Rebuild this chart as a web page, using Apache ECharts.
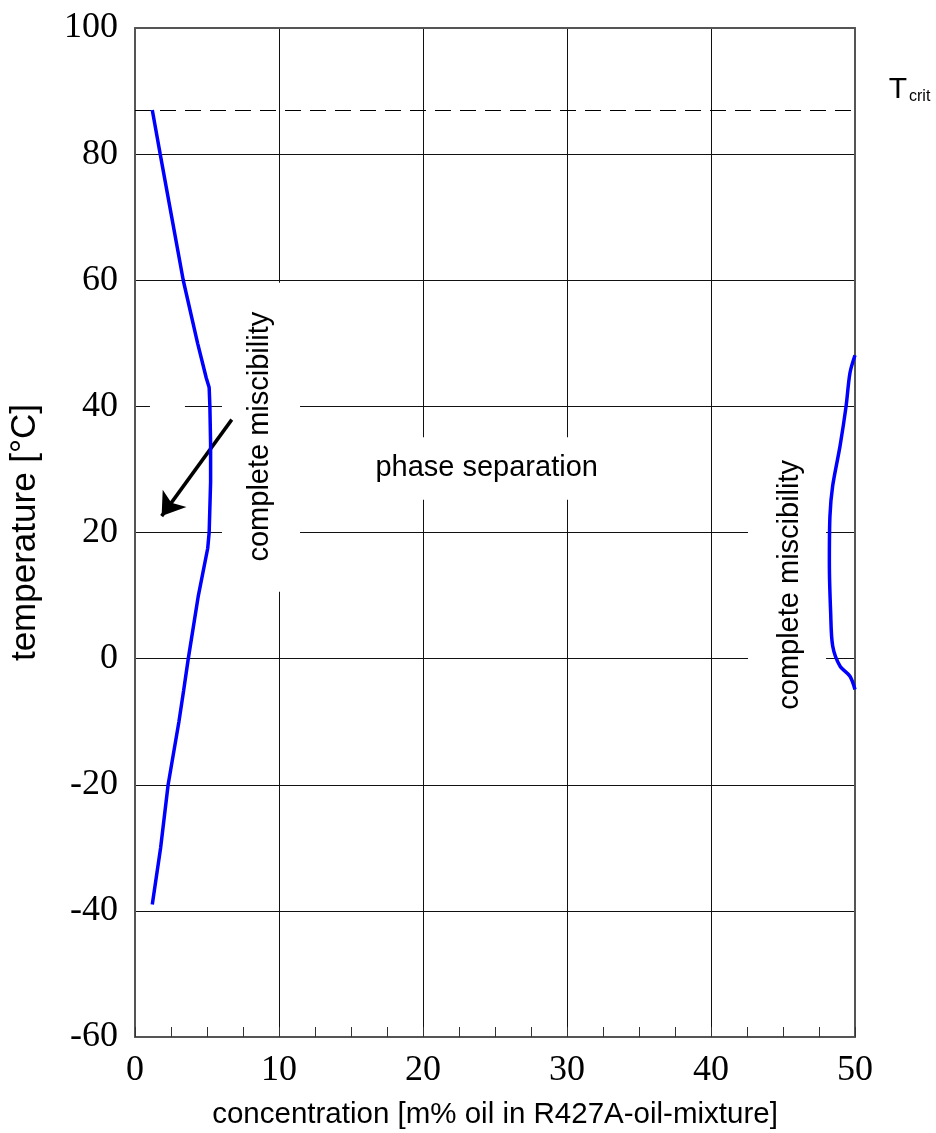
<!DOCTYPE html>
<html><head><meta charset="utf-8">
<script src="https://cdn.jsdelivr.net/npm/echarts@6/dist/echarts.min.js"></script>
<style>html,body{margin:0;padding:0;background:#fff}#c{width:936px;height:1133px}</style>
</head><body><div id="c"></div>
<script>
// ---- data ----
const leftX  = [1.2, 1.75, 2.55, 3.35, 4.35, 4.95, 5.15, 5.2, 5.25, 5.25, 5.2, 5.15, 5.05, 4.4, 3.7, 3.38, 3.05, 2.3, 1.78, 1.2];
const leftY  = [87, 80, 70, 60, 50, 44.5, 43, 40, 34, 28, 24, 20, 17.5, 10, 0, -5, -10, -20, -30, -39];
const rightX = [50.0, 49.65, 49.38, 48.96, 48.45, 48.26, 48.22, 48.31, 48.45, 48.96, 49.65, 50.0];
const rightY = [48.1, 45.3, 40.0, 33.7, 27.4, 22.6, 15.2, 7.3, 2.0, -1.2, -2.8, -4.9];
const xRange = [0, 50, 10];
const yRange = [-60, 100, 20];
const tCrit = 87;
const xTitle = 'concentration [m% oil in R427A-oil-mixture]';
const yTitle = 'temperature [°C]';
const labelTexts = ['complete miscibility', 'phase separation', 'complete miscibility'];
const labelAt = [[8.68, 35.2], [24.42, 30.3], [45.49, 11.7]];
const labelRot = [90, 0, 90];
const arrowFrom = [6.72, 37.9];
const arrowTo = [1.85, 22.6];
// white boxes behind labels (data coords: x1,y1,x2,y2)
const boxes = [[6.04, 59.6, 11.46, 10.6], [16.0, 35.1, 33.0, 25.2], [42.57, 33.2, 47.99, -9.7], [1.04, 40.8, 3.47, 39.2]];

const SANS = '"Liberation Sans", Arial, sans-serif';
const SERIF = '"Liberation Serif", "Times New Roman", serif';
const zip = (a, b) => a.map((v, i) => [v, b[i]]);

const chart = echarts.init(document.getElementById('c'));
const gridLine = {show: true, lineStyle: {color: '#111', width: 1}};
const axLine = {show: true, onZero: false, lineStyle: {color: '#555', width: 2}};
chart.setOption({
  animation: false,
  backgroundColor: '#fff',
  grid: {left: 135, right: 81, top: 28, bottom: 96, outerBoundsMode: 'none'},
  xAxis: [{
    type: 'value', min: xRange[0], max: xRange[1], interval: xRange[2],
    axisLine: axLine,
    axisTick: {show: true, inside: true, length: 10, lineStyle: {color: '#333', width: 1}},
    minorTick: {show: true, splitNumber: 4, length: 10, lineStyle: {color: '#333', width: 1}},
    axisLabel: {color: '#000', fontFamily: SERIF, fontSize: 36, margin: 16},
    splitLine: gridLine,
    name: xTitle, nameLocation: 'middle', nameGap: 63,
    nameTextStyle: {color: '#000', fontFamily: SANS, fontSize: 29.5}
  }, {
    type: 'value', position: 'top', min: xRange[0], max: xRange[1],
    axisLine: axLine, axisTick: {show: false}, axisLabel: {show: false}, splitLine: {show: false}
  }],
  yAxis: [{
    type: 'value', min: yRange[0], max: yRange[1], interval: yRange[2],
    axisLine: axLine, axisTick: {show: false},
    axisLabel: {color: '#000', fontFamily: SERIF, fontSize: 36, margin: 17},
    splitLine: gridLine,
    name: yTitle, nameLocation: 'middle', nameGap: 92,
    nameTextStyle: {color: '#000', fontFamily: SANS, fontSize: 35}
  }, {
    type: 'value', position: 'right', min: yRange[0], max: yRange[1],
    axisLine: axLine, axisTick: {show: false}, axisLabel: {show: false}, splitLine: {show: false}
  }],
  series: [
    {type: 'line', data: zip(leftX, leftY), symbol: 'none', z: 5,
     lineStyle: {color: '#0000ff', width: 3.5}},
    {type: 'line', data: zip(rightX, rightY), symbol: 'none', z: 5, smooth: 0.3,
     lineStyle: {color: '#0000ff', width: 3.5}},
    {type: 'line', data: [], z: 4,
     markLine: {silent: true, symbol: ['none', 'none'], label: {show: false},
       lineStyle: {color: '#000', width: 1.2, type: [16, 9]},
       data: [{yAxis: tCrit}]}},
    {type: 'line', data: [], z: 6,
     markLine: {silent: true, symbol: ['none', 'arrow'], symbolSize: 22, label: {show: false},
       lineStyle: {color: '#000', width: 3.5, type: 'solid'},
       data: [[{coord: arrowFrom}, {coord: arrowTo}]]}}
  ]
});

function px(p) { return chart.convertToPixel({gridIndex: 0}, p); }
const g = [];
boxes.forEach(b => {
  const a = px([b[0], b[1]]), c = px([b[2], b[3]]);
  g.push({type: 'rect', z: 1, silent: true,
    shape: {x: a[0], y: a[1], width: c[0] - a[0], height: c[1] - a[1]},
    style: {fill: '#fff'}});
});
labelTexts.forEach((t, i) => {
  const p = px(labelAt[i]);
  g.push({type: 'text', z: 10, x: p[0], y: p[1], rotation: labelRot[i] * Math.PI / 180,
    style: {text: t, fill: '#000', font: '29px ' + SANS, textAlign: 'center', textVerticalAlign: 'middle'}});
});
const tc = px([xRange[1], tCrit]);
g.push({type: 'text', z: 10, x: tc[0] + 43, y: tc[1] - 20,
  style: {text: 'T', fill: '#000', font: '30px ' + SANS, textAlign: 'center', textVerticalAlign: 'middle'}});
g.push({type: 'text', z: 10, x: tc[0] + 54, y: tc[1] - 13,
  style: {text: 'crit', fill: '#000', font: '16px ' + SANS, textAlign: 'left', textVerticalAlign: 'middle'}});
chart.setOption({graphic: g});
</script>
</body></html>
